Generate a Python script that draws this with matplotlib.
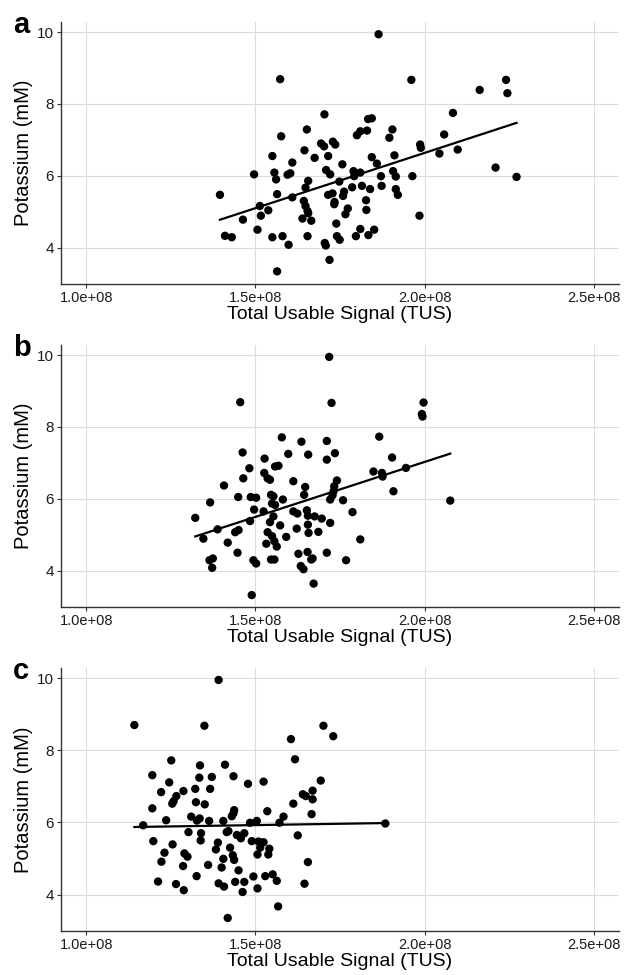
import matplotlib
matplotlib.use('Agg')
import matplotlib.pyplot as plt
import numpy as np
from matplotlib.ticker import FuncFormatter

plt.rcParams['font.family'] = ['Liberation Sans', 'DejaVu Sans']

# Total Usable Signal (x 1e8) and potassium (mM) per panel
tus_a = [1.573, 1.395, 1.704, 1.833, 1.576, 1.652, 1.800, 1.810, 1.830, 1.694, 1.703, 1.729, 1.736,
         1.550, 1.645, 1.675, 1.715, 1.609, 1.757, 1.496, 1.556, 1.561, 1.595, 1.603, 1.709, 1.721,
         1.790, 1.792, 1.810, 1.748, 1.656, 1.648, 1.564, 1.609, 1.715, 1.728, 1.762, 1.759, 1.786,
         1.815, 1.734, 1.733, 1.643, 1.648, 1.654, 1.656, 1.827, 1.828, 1.513, 1.538, 1.516, 1.773,
         1.766, 1.463, 1.639, 1.665, 1.506, 1.739, 1.410, 1.430, 1.550, 1.580, 1.598, 1.654, 1.705,
         1.708, 1.741, 1.749, 1.797, 1.810, 1.834, 1.719, 1.564,
         1.864, 1.961, 2.163, 2.241, 2.245, 2.084, 1.844, 1.905, 1.896, 2.058, 1.987, 1.989, 1.844,
         1.859, 1.911, 2.044, 2.098, 2.210, 2.272, 1.907, 1.915, 1.871, 1.964, 1.839, 1.873, 1.915,
         1.921, 1.985, 1.851]
k_a = [8.69, 5.47, 7.71, 7.58, 7.10, 7.29, 7.13, 7.24, 7.26, 6.90, 6.82, 6.95, 6.87, 6.55, 6.71,
       6.50, 6.55, 6.37, 6.32, 6.04, 6.09, 5.90, 6.03, 6.07, 6.16, 6.04, 6.13, 5.99, 6.09, 5.84,
       5.86, 5.67, 5.49, 5.40, 5.47, 5.51, 5.56, 5.44, 5.68, 5.72, 5.27, 5.21, 5.30, 5.16, 5.02,
       4.96, 5.32, 5.05, 5.16, 5.04, 4.89, 5.09, 4.93, 4.78, 4.81, 4.75, 4.50, 4.67, 4.33, 4.29,
       4.29, 4.32, 4.08, 4.32, 4.13, 4.06, 4.32, 4.22, 4.32, 4.52, 4.35, 3.66, 3.34,
       9.94, 8.67, 8.39, 8.67, 8.30, 7.75, 7.60, 7.29, 7.06, 7.15, 6.87, 6.78, 6.52, 6.34, 6.57,
       6.62, 6.73, 6.23, 5.97, 6.13, 5.98, 5.99, 5.99, 5.63, 5.72, 5.63, 5.47, 4.89, 4.50]

tus_b = [1.718, 1.455, 1.725, 1.578, 1.636, 1.711, 1.462, 1.597, 1.656, 1.527, 1.711, 1.735, 1.558,
         1.568, 1.482, 1.526, 1.536, 1.543, 1.464, 1.407, 1.612, 1.647, 1.449, 1.486, 1.502, 1.546,
         1.553, 1.581, 1.644, 1.733, 1.741, 1.721, 1.366, 1.549, 1.558, 1.496, 1.524, 1.612, 1.624,
         1.652, 1.655, 1.675, 1.696, 1.322, 1.484, 1.553, 1.543, 1.721, 1.573, 1.622, 1.655, 1.657,
         1.686, 1.388, 1.440, 1.450, 1.536, 1.549, 1.556, 1.563, 1.591, 1.346, 1.418, 1.532, 1.447,
         1.627, 1.654, 1.669, 1.665, 1.711, 1.546, 1.556, 1.364, 1.374, 1.372, 1.494, 1.502, 1.634,
         1.642, 1.672, 1.489,
         1.997, 1.992, 1.994, 1.866, 1.904, 1.849, 1.874, 1.876, 1.945, 1.731, 1.728, 1.759, 1.908,
         2.076, 1.787, 1.810, 1.768]
k_b = [9.95, 8.69, 8.67, 7.71, 7.59, 7.61, 7.29, 7.25, 7.23, 7.12, 7.09, 7.27, 6.90, 6.92, 6.85,
       6.72, 6.57, 6.53, 6.57, 6.37, 6.49, 6.33, 6.05, 6.05, 6.03, 6.11, 6.07, 5.98, 6.11, 6.35,
       6.51, 5.98, 5.90, 5.87, 5.83, 5.70, 5.65, 5.65, 5.59, 5.68, 5.53, 5.51, 5.45, 5.47, 5.38,
       5.51, 5.35, 5.33, 5.26, 5.17, 5.28, 5.05, 5.08, 5.15, 5.07, 5.13, 5.07, 4.96, 4.82, 4.67,
       4.94, 4.89, 4.78, 4.75, 4.50, 4.47, 4.52, 4.34, 4.31, 4.50, 4.31, 4.31, 4.29, 4.34, 4.08,
       4.29, 4.20, 4.13, 4.04, 3.64, 3.32,
       8.68, 8.36, 8.29, 7.73, 7.15, 6.76, 6.72, 6.62, 6.86, 6.21, 6.10, 5.96, 6.21, 5.95, 5.63,
       4.87, 4.29]

tus_c = [1.391, 1.142, 1.349, 1.251, 1.336, 1.410, 1.195, 1.334, 1.371, 1.435, 1.245, 1.478, 1.221,
         1.287, 1.322, 1.366, 1.266, 1.258, 1.254, 1.324, 1.350, 1.195, 1.437, 1.310, 1.327, 1.335,
         1.236, 1.363, 1.405, 1.430, 1.435, 1.168, 1.302, 1.339, 1.338, 1.415, 1.420, 1.445, 1.457,
         1.467, 1.489, 1.504, 1.198, 1.255, 1.389, 1.383, 1.231, 1.290, 1.299, 1.425, 1.433, 1.437,
         1.405, 1.222, 1.286, 1.360, 1.400, 1.450, 1.326, 1.494, 1.212, 1.265, 1.288, 1.391, 1.407,
         1.440, 1.467, 1.462, 1.506, 1.418,
         1.701, 1.730, 1.605, 1.617, 1.524, 1.693, 1.640, 1.649, 1.669, 1.669, 1.612, 1.535, 1.666,
         1.484, 1.583, 1.571, 1.884, 1.625, 1.509, 1.524, 1.514, 1.506, 1.541, 1.538, 1.655, 1.529,
         1.551, 1.563, 1.645, 1.567]
k_c = [9.95, 8.70, 8.68, 7.72, 7.58, 7.60, 7.31, 7.24, 7.26, 7.28, 7.11, 7.07, 6.84, 6.87, 6.93,
       6.93, 6.73, 6.59, 6.52, 6.56, 6.50, 6.39, 6.34, 6.16, 6.05, 6.11, 6.06, 6.04, 6.04, 6.17,
       6.25, 5.92, 5.73, 5.70, 5.50, 5.73, 5.76, 5.65, 5.56, 5.70, 5.48, 6.04, 5.48, 5.39, 5.44,
       5.25, 5.16, 5.14, 5.05, 5.30, 5.09, 4.96, 4.99, 4.91, 4.79, 4.82, 4.75, 4.67, 4.51, 4.50,
       4.36, 4.29, 4.12, 4.31, 4.22, 4.35, 4.35, 4.07, 4.17, 3.35,
       8.68, 8.39, 8.31, 7.75, 7.13, 7.16, 6.78, 6.73, 6.88, 6.64, 6.52, 6.31, 6.23, 5.99, 6.16,
       5.99, 5.97, 5.64, 5.47, 5.45, 5.30, 5.11, 5.27, 5.11, 4.90, 4.51, 4.56, 4.38, 4.30, 3.67]

panel_letters = ['a', 'b', 'c']
x_ticks = [1.0e8, 1.5e8, 2.0e8, 2.5e8]
y_ticks = [4, 6, 8, 10]

W, H = 626, 975
fig = plt.figure(figsize=(W / 100, H / 100), dpi=100)

# axes boxes in pixels: (left, top, right, bottom)
boxes = [(61, 22, 619, 284), (61, 345, 619, 607), (61, 668, 619, 931)]
panels = [(tus_a, k_a), (tus_b, k_b), (tus_c, k_c)]

all_k = np.array(k_a + k_b + k_c)
ypad = 0.05 * (all_k.max() - all_k.min())

for (l, t, r, b), (tus, k), letter in zip(boxes, panels, panel_letters):
    ax = fig.add_axes([l / W, 1 - b / H, (r - l) / W, (b - t) / H])
    x = np.array(tus) * 1e8
    y = np.array(k)

    ax.grid(True, color='#dcdcdc', linewidth=0.8)
    ax.set_axisbelow(True)
    ax.scatter(x, y, s=36, color='black', edgecolors='none', zorder=3)

    slope, icpt = np.polyfit(x, y, 1)
    xs = np.array([x.min(), x.max()])
    ax.plot(xs, icpt + slope * xs, color='black', linewidth=1.6, zorder=4)

    ax.set_xlim(0.925e8, 2.575e8)
    ax.set_ylim(all_k.min() - ypad, all_k.max() + ypad)
    ax.set_xticks(x_ticks)
    ax.set_yticks(y_ticks)
    ax.xaxis.set_major_formatter(FuncFormatter(lambda v, p: f"{v:.1e}"))

    for side in ['top', 'right']:
        ax.spines[side].set_visible(False)
    for side in ['left', 'bottom']:
        ax.spines[side].set_color('#333333')
        ax.spines[side].set_linewidth(1.0)
    ax.tick_params(length=3, width=0.8, color='#333333', labelsize=10.5,
                   labelcolor='#1a1a1a', pad=2)
    ax.tick_params(axis='y', labelsize=11)

    ax.set_xlabel('Total Usable Signal (TUS)', fontsize=14, labelpad=1)
    ax.set_ylabel('Potassium (mM)', fontsize=14.5, labelpad=3)
    fig.text(13 / W, 1 - (t + 11) / H, letter, fontsize=21, fontweight='bold',
             ha='left', va='baseline')

fig.savefig('out.png', dpi=100)
